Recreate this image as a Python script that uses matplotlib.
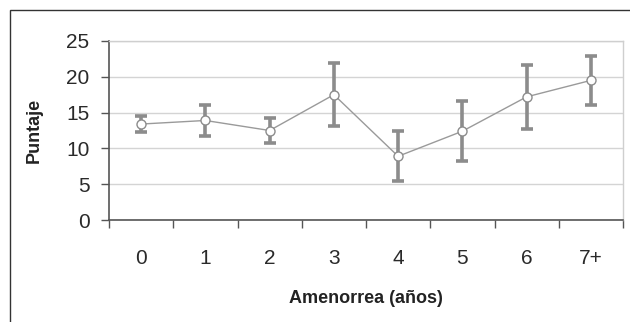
import numpy as np
import matplotlib.pyplot as plt
from matplotlib.patches import Rectangle

categorias = ["0", "1", "2", "3", "4", "5", "6", "7+"]
puntaje = [13.4, 13.9, 12.5, 17.5, 8.9, 12.4, 17.2, 19.5]
error = [1.1, 2.2, 1.8, 4.4, 3.5, 4.2, 4.5, 3.4]
yticks = [0, 5, 10, 15, 20, 25]

plt.rcParams['font.family'] = ['Liberation Sans', 'DejaVu Sans']

fig = plt.figure(figsize=(6.3, 3.22), dpi=100)
ax = fig.add_axes([109/630, 1-220/322, 514/630, 179/322])

x = np.arange(len(categorias))
ax.errorbar(x, puntaje, yerr=error, fmt='none', ecolor='#8c8c8c',
            elinewidth=2.6, capsize=4, capthick=2.6, zorder=3)
ax.plot(x, puntaje, color='#9a9a9a', lw=1, marker='o', ms=6.5,
        mfc='white', mec='#8c8c8c', mew=1, zorder=4)

ax.set_xlim(-0.5, len(categorias)-0.5)
ax.set_ylim(0, 25)
ax.set_yticks(yticks)
ax.set_xticks(x)
ax.set_xticklabels(categorias)
ax.set_xticks(np.arange(-0.5, len(categorias)), minor=True)
ax.tick_params(axis='x', which='major', length=0, pad=21, labelsize=15, colors='#2a2a2a')
ax.tick_params(axis='x', which='minor', length=6, width=1, color='#555555')
ax.tick_params(axis='y', length=6, width=1, color='#555555', labelsize=15,
               labelcolor='#2a2a2a', pad=8)

ax.grid(axis='y', color='#d4d4d4', lw=1)
ax.set_axisbelow(True)
for s in ['left', 'bottom']:
    ax.spines[s].set_color('#555555')
    ax.spines[s].set_linewidth(1.2)
for s in ['top', 'right']:
    ax.spines[s].set_color('#cfcfcf')
    ax.spines[s].set_linewidth(1)

ax.set_ylabel('Puntaje', fontsize=13, fontweight='bold', color='#222222', labelpad=17)
ax.set_xlabel('Amenorrea (años)', fontsize=13, fontweight='bold', color='#222222', labelpad=16)

fig.add_artist(Rectangle((9.5/630, -0.1), 1.2, 1.1 - 10.5/322, transform=fig.transFigure,
                         fill=False, edgecolor='#333333', lw=1, clip_on=False))

fig.savefig('out.png', dpi=100)
